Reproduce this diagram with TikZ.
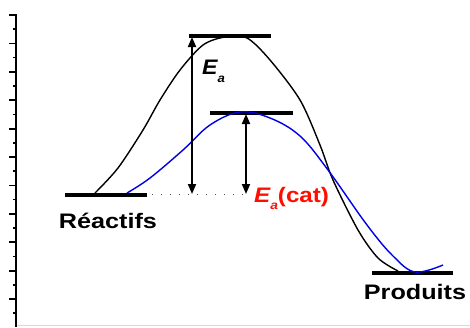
\documentclass[tikz,border=0pt]{standalone}
\usepackage{fontspec}
\setmainfont{Liberation Sans}
\usetikzlibrary{arrows.meta}
\tikzset{
  level/.style={line width=4pt},
  curveblack/.style={black, line width=1.4pt},
  curveblue/.style={blue!90!black, line width=1.4pt},
  energy/.style={line width=1.8pt, {Triangle[length=10pt,width=8pt]}-{Triangle[length=10pt,width=8pt]}},
  lbl/.style={font=\fontsize{21}{23}\selectfont\bfseries, inner sep=0pt},
}
\begin{document}
\begin{tikzpicture}[x=1pt,y=-1pt]
\useasboundingbox (0,0) rectangle (470,327);
% bottom grey line
\draw[black!15, line width=1pt] (15,325) -- (470,325);
% axis
\draw[line width=1.8pt] (9,15) -- (16,15) -- (16,327);
\foreach \i in {1,...,10} \draw[line width=1.8pt] (9,{15+28.4*\i}) -- (16,{15+28.4*\i});
\foreach \i in {0,...,10} \draw[line width=1.6pt] (13,{29.2+28.4*\i}) -- (16,{29.2+28.4*\i});
% levels
\coordinate (r1) at (65,195); \coordinate (r2) at (147,195);
\coordinate (t1) at (189,36); \coordinate (t2) at (271,36);
\coordinate (c1) at (210,113); \coordinate (c2) at (293,113);
\coordinate (p1) at (372,273); \coordinate (p2) at (453,273);
\draw[level] (r1) -- (r2);
\draw[level] (t1) -- (t2);
\draw[level] (c1) -- (c2);
\draw[level] (p1) -- (p2);
% curves
\draw[curveblack] plot[smooth, tension=0.5] coordinates {(95,193) (118,168) (143,130) (160,100) (180,70) (203,45) (225,37) (247,38) (270,60) (300,100) (320,145) (333,180) (358,230) (378,258) (398,271)};
\draw[curveblue] plot[smooth, tension=0.6] coordinates {(127,193) (150,178) (183,150) (210,125) (240,112) (270,118) (300,136) (328,170) (367,225) (393,256) (415,272) (443,265)};
% dotted baseline
\coordinate (ea0) at (192,194);
\coordinate (ec0) at (246,194);
\draw[line width=1pt, black!70, dash pattern=on 1pt off 8pt] (152,194) -- (ec0);
% arrows
\coordinate (ea1) at (192,37);
\coordinate (ec1) at (246,114);
\draw[energy] (ea1) -- (ea0);
\draw[energy] (ec1) -- (ec0);
% labels
\node[lbl, anchor=north west] (lea) at (202,60) {\scalebox{1.1}[1]{\itshape E\raisebox{-0.35em}{\fontsize{12}{13}\selectfont a}}};
\node[lbl, anchor=north west, red!90!orange] (lec) at (254,187) {\scalebox{1.15}[1]{\itshape E\raisebox{-0.35em}{\fontsize{12}{13}\selectfont a}\upshape(cat)}};
\node[lbl, anchor=north] (lr) at (108,213) {\scalebox{1.2}[1]{Réactifs}};
\node[lbl, anchor=north] (lp) at (415,284) {\scalebox{1.2}[1]{Produits}};
\end{tikzpicture}
\end{document}
